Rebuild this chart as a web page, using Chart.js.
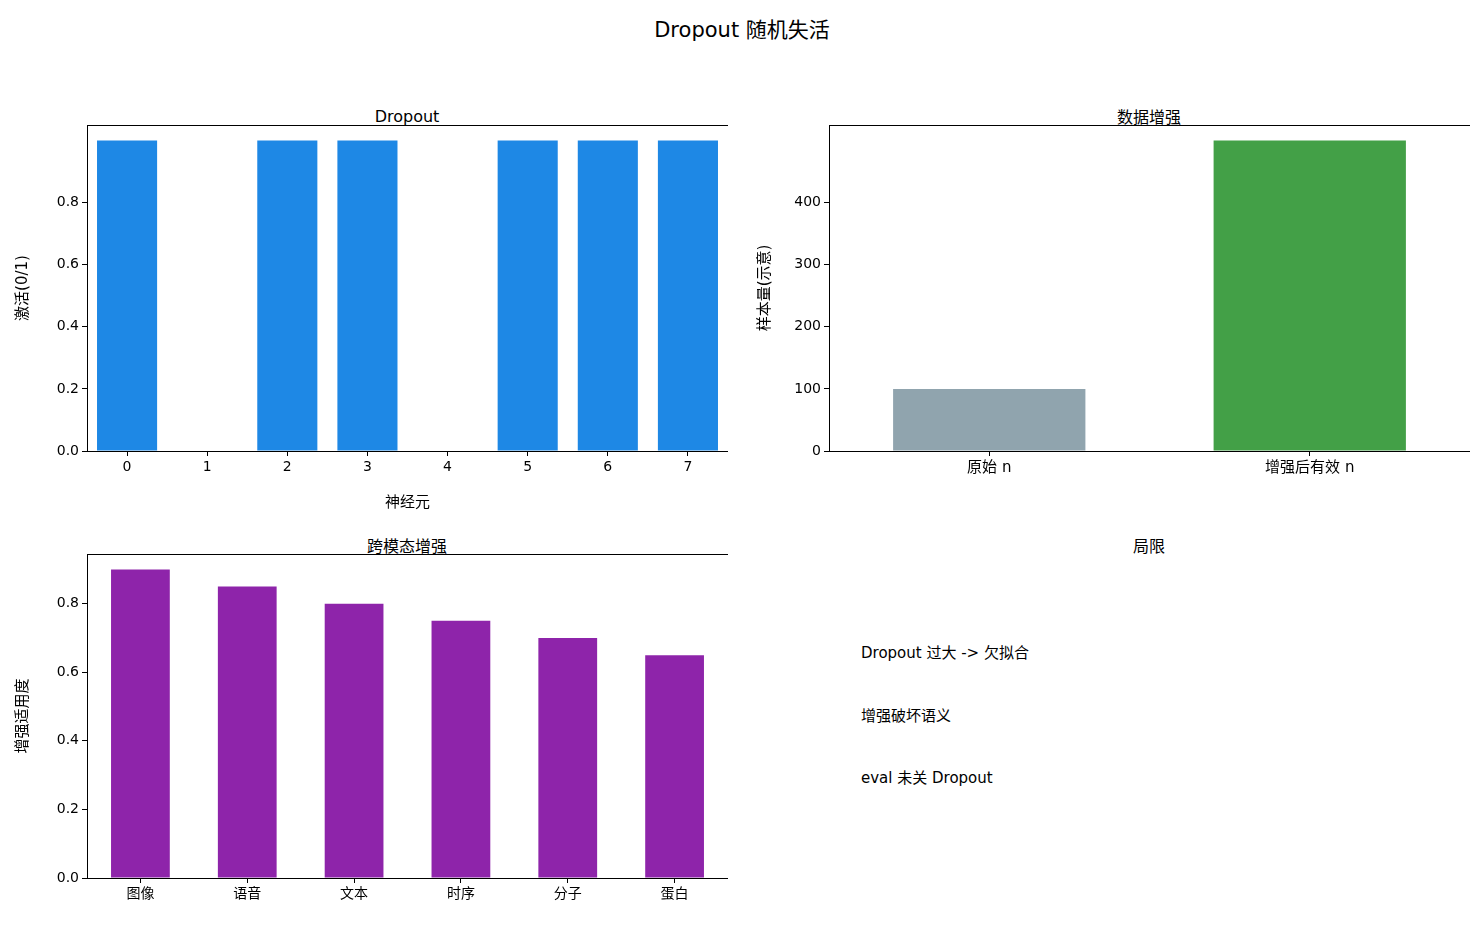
<!DOCTYPE html>
<html><head><meta charset="utf-8">
<script src="https://cdn.jsdelivr.net/npm/chart.js@4"></script>
<style>
body{margin:0;width:1484px;height:925px;background:#fff;position:relative;font-family:"DejaVu Sans","Noto Sans CJK SC",sans-serif;overflow:hidden}
.t{position:absolute;transform:translate(-50%,-50%);white-space:nowrap;color:#000}
canvas{position:absolute}
.txt{position:absolute;left:861px;transform:translateY(-50%);font-size:15px;white-space:nowrap}
</style></head><body>
<div class="t" style="left:742px;top:28px;font-size:21px">Dropout 随机失活</div>
<div class="t" style="left:407px;top:116px;font-size:16px">Dropout</div>
<div class="t" style="left:1149px;top:116px;font-size:16px">数据增强</div>
<div class="t" style="left:407px;top:545px;font-size:16px">跨模态增强</div>
<div class="t" style="left:1149px;top:545px;font-size:16px">局限</div>
<div class="txt" style="top:651px">Dropout 过大 -&gt; 欠拟合</div>
<div class="txt" style="top:714px">增强破坏语义</div>
<div class="txt" style="top:776px">eval 未关 Dropout</div>
<div style="position:absolute;left:10px;top:125px"><canvas id="c1" width="718" height="391" style="width:718px;height:391px"></canvas></div>
<div style="position:absolute;left:752px;top:125px"><canvas id="c2" width="718" height="391" style="width:718px;height:391px"></canvas></div>
<div style="position:absolute;left:10px;top:554px"><canvas id="c3" width="718" height="356" style="width:718px;height:356px"></canvas></div>
<script>
const neurons=['0','1','2','3','4','5','6','7'];
const activation=[1,0,1,1,0,1,1,1];
const augCats=['原始 n','增强后有效 n'];
const augVals=[100,500];
const modalCats=['图像','语音','文本','时序','分子','蛋白'];
const modalVals=[0.9,0.85,0.8,0.75,0.7,0.65];
const FONT='"DejaVu Sans","Noto Sans CJK SC",sans-serif';
Chart.defaults.font.family=FONT;Chart.defaults.color='#000';
const box={id:'box',afterDraw(c){const a=c.chartArea,x=c.ctx;x.save();x.strokeStyle='#000';x.lineWidth=1;x.strokeRect(a.left+0.5,a.top+0.5,a.right-a.left,a.bottom-a.top);x.restore();}};
function mk(id,labels,data,colors,bp,ymax,step,dec,ytitle,xtitle,xh,xfs){
 new Chart(document.getElementById(id),{type:'bar',
  data:{labels,datasets:[{data,backgroundColor:colors,barPercentage:bp,categoryPercentage:1}]},
  options:{responsive:false,animation:false,layout:{padding:0},
   plugins:{legend:{display:false},tooltip:{enabled:false}},
   scales:{
    x:{grid:{drawOnChartArea:false,offset:false,color:'#000',tickLength:5},border:{color:'#000'},
       ticks:{font:{size:xfs},color:'#000'},
       title:{display:!!xtitle,text:xtitle,font:{size:15},padding:{top:2}},
       afterFit:s=>{s.height=xh;}},
    y:{min:0,max:ymax,grid:{drawOnChartArea:false,color:'#000',tickLength:5},border:{color:'#000'},
       ticks:{stepSize:step,font:{size:14},color:'#000',callback:v=>v.toFixed(dec)},
       afterBuildTicks:s=>{s.ticks=s.ticks.filter(t=>{const r=t.value/step;return Math.abs(r-Math.round(r))<1e-6;});},
       title:{display:true,text:ytitle,font:{size:15}},
       afterFit:s=>{s.width=77;s.paddingTop=0;}}}},
  plugins:[box]});
}
mk('c1',neurons,activation,'#1e88e5',0.75,1.05,0.2,1,'激活(0/1)','神经元',65,14);
mk('c2',augCats,augVals,['#90a4ae','#43a047'],0.6,525,100,0,'样本量(示意)','',65,15);
mk('c3',modalCats,modalVals,'#8e24aa',0.55,0.945,0.2,1,'增强适用度','',32,14);
</script></body></html>
